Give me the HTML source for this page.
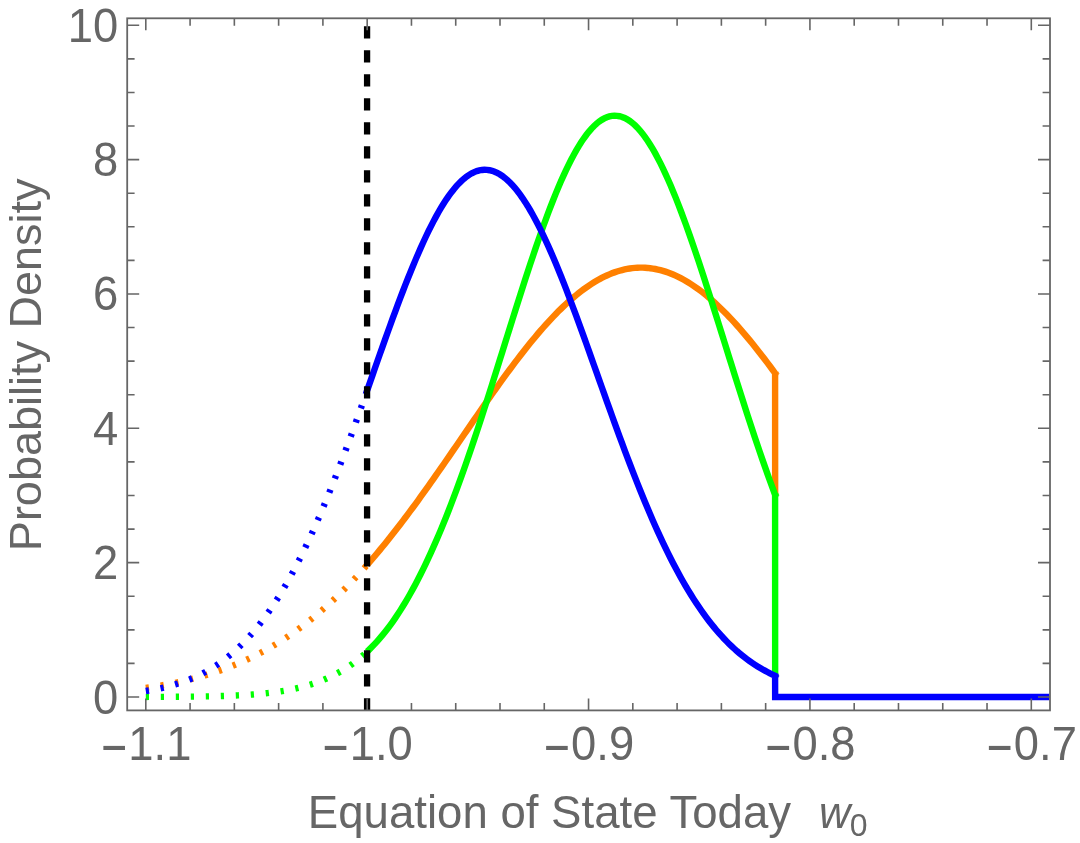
<!DOCTYPE html>
<html lang="en"><head><meta charset="utf-8"><title>Probability Density</title>
<style>html,body{margin:0;padding:0;background:#fff;}svg{display:block;will-change:transform;}text{font-family:"Liberation Sans",sans-serif;fill:#666666;}</style></head><body>
<svg width="1080" height="843" viewBox="0 0 1080 843">
<rect width="1080" height="843" fill="#fff"/>
<defs><clipPath id="c"><rect x="127.20" y="18.30" width="922.00" height="692.10"/></clipPath></defs>
<g clip-path="url(#c)" fill="none" stroke-width="6.4" stroke-linejoin="miter" stroke-miterlimit="4">
<path d="M145.80,687.89 L149.49,687.35 L153.18,686.79 L156.87,686.20 L160.56,685.57 L164.25,684.92 L167.94,684.24 L171.63,683.52 L175.32,682.77 L179.01,681.99 L182.70,681.16 L186.39,680.30 L190.08,679.40 L193.76,678.46 L197.45,677.48 L201.14,676.46 L204.83,675.39 L208.52,674.27 L212.21,673.11 L215.90,671.89 L219.59,670.63 L223.28,669.32 L226.97,667.95 L230.66,666.53 L234.35,665.05 L238.04,663.52 L241.73,661.92 L245.42,660.27 L249.11,658.55 L252.80,656.78 L256.49,654.93 L260.18,653.02 L263.87,651.05 L267.56,649.01 L271.25,646.89 L274.94,644.71 L278.63,642.46 L282.31,640.13 L286.00,637.73 L289.69,635.25 L293.38,632.70 L297.07,630.07 L300.76,627.36 L304.45,624.57 L308.14,621.71 L311.83,618.76 L315.52,615.74 L319.21,612.63 L322.90,609.44 L326.59,606.17 L330.28,602.82 L333.97,599.39 L337.66,595.87 L341.35,592.28 L345.04,588.60 L348.73,584.84 L352.42,581.00 L356.11,577.08 L359.80,573.08 L363.49,569.00 L367.18,564.84" stroke="#ff8000" stroke-dasharray="3.2 11.8"/>
<path d="M367.18,564.84 L369.72,561.93 L372.27,558.97 L374.82,555.98 L377.37,552.96 L379.92,549.90 L382.47,546.81 L385.02,543.68 L387.57,540.52 L390.12,537.33 L392.67,534.10 L395.22,530.84 L397.77,527.56 L400.32,524.24 L402.87,520.90 L405.42,517.52 L407.97,514.12 L410.52,510.70 L413.07,507.24 L415.62,503.77 L418.17,500.27 L420.72,496.74 L423.27,493.20 L425.81,489.63 L428.36,486.05 L430.91,482.45 L433.46,478.83 L436.01,475.19 L438.56,471.54 L441.11,467.88 L443.66,464.20 L446.21,460.52 L448.76,456.82 L451.31,453.12 L453.86,449.41 L456.41,445.70 L458.96,441.98 L461.51,438.26 L464.06,434.54 L466.61,430.82 L469.16,427.10 L471.71,423.39 L474.26,419.68 L476.81,415.98 L479.36,412.28 L481.90,408.60 L484.45,404.93 L487.00,401.27 L489.55,397.63 L492.10,394.01 L494.65,390.40 L497.20,386.82 L499.75,383.26 L502.30,379.72 L504.85,376.21 L507.40,372.72 L509.95,369.26 L512.50,365.84 L515.05,362.44 L517.60,359.08 L520.15,355.76 L522.70,352.48 L525.25,349.23 L527.80,346.02 L530.35,342.86 L532.90,339.74 L535.45,336.67 L537.99,333.65 L540.54,330.67 L543.09,327.75 L545.64,324.88 L548.19,322.06 L550.74,319.30 L553.29,316.60 L555.84,313.95 L558.39,311.37 L560.94,308.85 L563.49,306.39 L566.04,303.99 L568.59,301.66 L571.14,299.40 L573.69,297.21 L576.24,295.09 L578.79,293.04 L581.34,291.06 L583.89,289.15 L586.44,287.32 L588.99,285.57 L591.54,283.89 L594.08,282.29 L596.63,280.77 L599.18,279.32 L601.73,277.96 L604.28,276.68 L606.83,275.49 L609.38,274.37 L611.93,273.34 L614.48,272.39 L617.03,271.53 L619.58,270.76 L622.13,270.06 L624.68,269.46 L627.23,268.94 L629.78,268.51 L632.33,268.17 L634.88,267.91 L637.43,267.74 L639.98,267.66 L642.53,267.66 L645.08,267.76 L647.63,267.94 L650.17,268.21 L652.72,268.56 L655.27,269.01 L657.82,269.54 L660.37,270.15 L662.92,270.85 L665.47,271.64 L668.02,272.52 L670.57,273.47 L673.12,274.52 L675.67,275.64 L678.22,276.85 L680.77,278.14 L683.32,279.51 L685.87,280.96 L688.42,282.50 L690.97,284.11 L693.52,285.79 L696.07,287.56 L698.62,289.40 L701.17,291.31 L703.72,293.30 L706.26,295.36 L708.81,297.50 L711.36,299.70 L713.91,301.97 L716.46,304.31 L719.01,306.71 L721.56,309.18 L724.11,311.71 L726.66,314.30 L729.21,316.95 L731.76,319.66 L734.31,322.43 L736.86,325.26 L739.41,328.13 L741.96,331.06 L744.51,334.05 L747.06,337.08 L749.61,340.15 L752.16,343.28 L754.71,346.45 L757.26,349.66 L759.81,352.91 L762.35,356.20 L764.90,359.53 L767.45,362.89 L770.00,366.29 L772.55,369.72 L775.10,373.18 L775.15,495.78" stroke="#ff8000"/>
<path d="M778.20,370.98 l1.1,2.6 l-1.1,1.8 z" fill="#ff8000" stroke="none"/>
<path d="M145.80,696.93 L149.49,696.92 L153.18,696.91 L156.87,696.90 L160.56,696.88 L164.25,696.87 L167.94,696.85 L171.63,696.83 L175.32,696.80 L179.01,696.77 L182.70,696.74 L186.39,696.70 L190.08,696.66 L193.76,696.62 L197.45,696.57 L201.14,696.51 L204.83,696.44 L208.52,696.37 L212.21,696.29 L215.90,696.19 L219.59,696.09 L223.28,695.97 L226.97,695.85 L230.66,695.70 L234.35,695.54 L238.04,695.36 L241.73,695.17 L245.42,694.95 L249.11,694.71 L252.80,694.44 L256.49,694.14 L260.18,693.81 L263.87,693.45 L267.56,693.06 L271.25,692.62 L274.94,692.14 L278.63,691.62 L282.31,691.04 L286.00,690.41 L289.69,689.73 L293.38,688.98 L297.07,688.16 L300.76,687.27 L304.45,686.30 L308.14,685.25 L311.83,684.11 L315.52,682.88 L319.21,681.54 L322.90,680.10 L326.59,678.54 L330.28,676.87 L333.97,675.06 L337.66,673.12 L341.35,671.04 L345.04,668.81 L348.73,666.42 L352.42,663.85 L356.11,661.09 L359.80,658.14 L363.49,654.99 L367.18,651.62" stroke="#00ff00" stroke-dasharray="3.2 11.8"/>
<path d="M367.18,651.62 L369.72,649.16 L372.27,646.59 L374.82,643.91 L377.37,641.12 L379.92,638.21 L382.47,635.17 L385.02,632.02 L387.57,628.74 L390.12,625.33 L392.67,621.79 L395.22,618.12 L397.77,614.32 L400.32,610.38 L402.87,606.31 L405.42,602.10 L407.97,597.75 L410.52,593.27 L413.07,588.65 L415.62,583.89 L418.17,579.00 L420.72,573.98 L423.27,568.82 L425.81,563.54 L428.36,558.12 L430.91,552.59 L433.46,546.93 L436.01,541.15 L438.56,535.24 L441.11,529.19 L443.66,523.00 L446.21,516.69 L448.76,510.24 L451.31,503.67 L453.86,496.98 L456.41,490.16 L458.96,483.22 L461.51,476.18 L464.06,469.02 L466.61,461.75 L469.16,454.38 L471.71,446.92 L474.26,439.36 L476.81,431.72 L479.36,423.99 L481.90,416.19 L484.45,408.33 L487.00,400.40 L489.55,392.42 L492.10,384.39 L494.65,376.31 L497.20,368.21 L499.75,360.08 L502.30,351.94 L504.85,343.79 L507.40,335.63 L509.95,327.49 L512.50,319.37 L515.05,311.27 L517.60,303.21 L520.15,295.20 L522.70,287.24 L525.25,279.35 L527.80,271.54 L530.35,263.81 L532.90,256.18 L535.45,248.65 L537.99,241.24 L540.54,233.95 L543.09,226.80 L545.64,219.79 L548.19,212.93 L550.74,206.24 L553.29,199.73 L555.84,193.40 L558.39,187.26 L560.94,181.32 L563.49,175.59 L566.04,170.07 L568.59,164.79 L571.14,159.74 L573.69,154.93 L576.24,150.37 L578.79,146.06 L581.34,142.02 L583.89,138.25 L586.44,134.76 L588.99,131.54 L591.54,128.61 L594.08,125.97 L596.63,123.63 L599.18,121.58 L601.73,119.84 L604.28,118.40 L606.83,117.26 L609.38,116.44 L611.93,115.92 L614.48,115.71 L617.03,115.82 L619.58,116.24 L622.13,116.96 L624.68,118.00 L627.23,119.34 L629.78,120.99 L632.33,122.93 L634.88,125.18 L637.43,127.73 L639.98,130.56 L642.53,133.69 L645.08,137.09 L647.63,140.77 L650.17,144.73 L652.72,148.95 L655.27,153.42 L657.82,158.15 L660.37,163.13 L662.92,168.34 L665.47,173.78 L668.02,179.44 L670.57,185.31 L673.12,191.39 L675.67,197.66 L678.22,204.12 L680.77,210.75 L683.32,217.55 L685.87,224.51 L688.42,231.62 L690.97,238.86 L693.52,246.24 L696.07,253.73 L698.62,261.33 L701.17,269.03 L703.72,276.82 L706.26,284.68 L708.81,292.62 L711.36,300.61 L713.91,308.66 L716.46,316.74 L719.01,324.86 L721.56,333.00 L724.11,341.15 L726.66,349.30 L729.21,357.45 L731.76,365.58 L734.31,373.70 L736.86,381.78 L739.41,389.82 L741.96,397.82 L744.51,405.77 L747.06,413.66 L749.61,421.48 L752.16,429.23 L754.71,436.90 L757.26,444.48 L759.81,451.98 L762.35,459.38 L764.90,466.68 L767.45,473.87 L770.00,480.96 L772.55,487.93 L775.10,494.78 L775.15,676.71" stroke="#00ff00"/>
<path d="M778.20,492.58 l1.1,2.6 l-1.1,1.8 z" fill="#00ff00" stroke="none"/>
<path d="M145.80,691.03 L149.49,690.42 L153.18,689.76 L156.87,689.04 L160.56,688.26 L164.25,687.41 L167.94,686.49 L171.63,685.49 L175.32,684.42 L179.01,683.25 L182.70,682.00 L186.39,680.65 L190.08,679.19 L193.76,677.63 L197.45,675.95 L201.14,674.15 L204.83,672.23 L208.52,670.17 L212.21,667.96 L215.90,665.62 L219.59,663.11 L223.28,660.45 L226.97,657.62 L230.66,654.61 L234.35,651.43 L238.04,648.05 L241.73,644.48 L245.42,640.71 L249.11,636.74 L252.80,632.55 L256.49,628.14 L260.18,623.51 L263.87,618.66 L267.56,613.57 L271.25,608.24 L274.94,602.67 L278.63,596.86 L282.31,590.81 L286.00,584.51 L289.69,577.96 L293.38,571.16 L297.07,564.11 L300.76,556.82 L304.45,549.29 L308.14,541.51 L311.83,533.50 L315.52,525.26 L319.21,516.79 L322.90,508.11 L326.59,499.22 L330.28,490.13 L333.97,480.85 L337.66,471.39 L341.35,461.73 L345.04,451.91 L348.73,441.94 L352.42,431.82 L356.11,421.58 L359.80,411.25 L363.49,400.83 L367.18,390.36" stroke="#0000ff" stroke-dasharray="3.2 11.8"/>
<path d="M367.18,390.36 L369.72,383.10 L372.27,375.83 L374.82,368.56 L377.37,361.30 L379.92,354.06 L382.47,346.85 L385.02,339.67 L387.57,332.54 L390.12,325.46 L392.67,318.45 L395.22,311.52 L397.77,304.67 L400.32,297.92 L402.87,291.26 L405.42,284.71 L407.97,278.26 L410.52,271.93 L413.07,265.71 L415.62,259.63 L418.17,253.69 L420.72,247.89 L423.27,242.25 L425.81,236.77 L428.36,231.46 L430.91,226.32 L433.46,221.37 L436.01,216.62 L438.56,212.05 L441.11,207.70 L443.66,203.55 L446.21,199.62 L448.76,195.92 L451.31,192.44 L453.86,189.19 L456.41,186.18 L458.96,183.41 L461.51,180.89 L464.06,178.62 L466.61,176.61 L469.16,174.85 L471.71,173.34 L474.26,172.10 L476.81,171.13 L479.36,170.41 L481.90,169.97 L484.45,169.79 L487.00,169.87 L489.55,170.23 L492.10,170.85 L494.65,171.73 L497.20,172.88 L499.75,174.29 L502.30,175.96 L504.85,177.89 L507.40,180.07 L509.95,182.50 L512.50,185.18 L515.05,188.10 L517.60,191.27 L520.15,194.67 L522.70,198.29 L525.25,202.15 L527.80,206.22 L530.35,210.50 L532.90,214.99 L535.45,219.68 L537.99,224.56 L540.54,229.63 L543.09,234.88 L545.64,240.30 L548.19,245.89 L550.74,251.63 L553.29,257.53 L555.84,263.56 L558.39,269.73 L560.94,276.02 L563.49,282.43 L566.04,288.95 L568.59,295.57 L571.14,302.28 L573.69,309.08 L576.24,315.95 L578.79,322.89 L581.34,329.89 L583.89,336.94 L586.44,344.03 L588.99,351.16 L591.54,358.31 L594.08,365.48 L596.63,372.66 L599.18,379.85 L601.73,387.02 L604.28,394.19 L606.83,401.33 L609.38,408.45 L611.93,415.54 L614.48,422.59 L617.03,429.59 L619.58,436.55 L622.13,443.44 L624.68,450.28 L627.23,457.05 L629.78,463.75 L632.33,470.38 L634.88,476.92 L637.43,483.38 L639.98,489.75 L642.53,496.03 L645.08,502.21 L647.63,508.30 L650.17,514.28 L652.72,520.16 L655.27,525.93 L657.82,531.60 L660.37,537.15 L662.92,542.59 L665.47,547.92 L668.02,553.14 L670.57,558.23 L673.12,563.22 L675.67,568.08 L678.22,572.83 L680.77,577.45 L683.32,581.97 L685.87,586.36 L688.42,590.63 L690.97,594.79 L693.52,598.84 L696.07,602.77 L698.62,606.58 L701.17,610.28 L703.72,613.87 L706.26,617.35 L708.81,620.71 L711.36,623.98 L713.91,627.13 L716.46,630.18 L719.01,633.13 L721.56,635.98 L724.11,638.73 L726.66,641.38 L729.21,643.93 L731.76,646.39 L734.31,648.75 L736.86,651.03 L739.41,653.21 L741.96,655.31 L744.51,657.32 L747.06,659.25 L749.61,661.10 L752.16,662.88 L754.71,664.57 L757.26,666.20 L759.81,667.75 L762.35,669.24 L764.90,670.66 L767.45,672.01 L770.00,673.30 L772.55,674.53 L775.10,675.71 L775.15,697.00 L1060.00,697.00" stroke="#0000ff"/>
<path d="M778.20,673.51 l1.1,2.6 l-1.1,1.8 z" fill="#0000ff" stroke="none"/>
<path d="M367.08,26.3 V710.40" stroke="#000" stroke-width="6.3" stroke-dasharray="12.2 11.8"/>
</g>
<rect x="127.20" y="18.30" width="922.80" height="692.10" fill="none" stroke="#666666" stroke-width="1.8"/>
<path d="M145.80,710.40 v-12.00 M145.80,18.30 v12.00 M190.08,710.40 v-7.40 M190.08,18.30 v7.40 M234.35,710.40 v-7.40 M234.35,18.30 v7.40 M278.63,710.40 v-7.40 M278.63,18.30 v7.40 M322.90,710.40 v-7.40 M322.90,18.30 v7.40 M367.18,710.40 v-12.00 M367.18,18.30 v12.00 M411.45,710.40 v-7.40 M411.45,18.30 v7.40 M455.73,710.40 v-7.40 M455.73,18.30 v7.40 M500.00,710.40 v-7.40 M500.00,18.30 v7.40 M544.27,710.40 v-7.40 M544.27,18.30 v7.40 M588.55,710.40 v-12.00 M588.55,18.30 v12.00 M632.82,710.40 v-7.40 M632.82,18.30 v7.40 M677.10,710.40 v-7.40 M677.10,18.30 v7.40 M721.38,710.40 v-7.40 M721.38,18.30 v7.40 M765.65,710.40 v-7.40 M765.65,18.30 v7.40 M809.93,710.40 v-12.00 M809.93,18.30 v12.00 M854.20,710.40 v-7.40 M854.20,18.30 v7.40 M898.48,710.40 v-7.40 M898.48,18.30 v7.40 M942.75,710.40 v-7.40 M942.75,18.30 v7.40 M987.03,710.40 v-7.40 M987.03,18.30 v7.40 M1031.30,710.40 v-12.00 M1031.30,18.30 v12.00 M127.20,697.00 h12.00 M1050.00,697.00 h-12.00 M127.20,663.41 h7.40 M1050.00,663.41 h-7.40 M127.20,629.83 h7.40 M1050.00,629.83 h-7.40 M127.20,596.25 h7.40 M1050.00,596.25 h-7.40 M127.20,562.66 h12.00 M1050.00,562.66 h-12.00 M127.20,529.08 h7.40 M1050.00,529.08 h-7.40 M127.20,495.49 h7.40 M1050.00,495.49 h-7.40 M127.20,461.90 h7.40 M1050.00,461.90 h-7.40 M127.20,428.32 h12.00 M1050.00,428.32 h-12.00 M127.20,394.74 h7.40 M1050.00,394.74 h-7.40 M127.20,361.15 h7.40 M1050.00,361.15 h-7.40 M127.20,327.56 h7.40 M1050.00,327.56 h-7.40 M127.20,293.98 h12.00 M1050.00,293.98 h-12.00 M127.20,260.39 h7.40 M1050.00,260.39 h-7.40 M127.20,226.81 h7.40 M1050.00,226.81 h-7.40 M127.20,193.22 h7.40 M1050.00,193.22 h-7.40 M127.20,159.64 h12.00 M1050.00,159.64 h-12.00 M127.20,126.05 h7.40 M1050.00,126.05 h-7.40 M127.20,92.47 h7.40 M1050.00,92.47 h-7.40 M127.20,58.88 h7.40 M1050.00,58.88 h-7.40 M127.20,25.30 h12.00 M1050.00,25.30 h-12.00" stroke="#666666" stroke-width="1.6" fill="none"/>
<rect x="103.38" y="745.90" width="21.6" height="4.1" fill="#666666"/>
<text transform="translate(128.30,760.10) scale(1,1.045)" font-size="45.4" text-anchor="start">1.1</text>
<rect x="324.76" y="745.90" width="21.6" height="4.1" fill="#666666"/>
<text transform="translate(349.67,760.10) scale(1,1.045)" font-size="45.4" text-anchor="start">1.0</text>
<rect x="546.13" y="745.90" width="21.6" height="4.1" fill="#666666"/>
<text transform="translate(571.05,760.10) scale(1,1.045)" font-size="45.4" text-anchor="start">0.9</text>
<rect x="767.51" y="745.90" width="21.6" height="4.1" fill="#666666"/>
<text transform="translate(792.42,760.10) scale(1,1.045)" font-size="45.4" text-anchor="start">0.8</text>
<rect x="988.88" y="745.90" width="21.6" height="4.1" fill="#666666"/>
<text transform="translate(1013.80,760.10) scale(1,1.045)" font-size="45.4" text-anchor="start">0.7</text>
<text transform="translate(118.20,713.50) scale(1,1.045)" font-size="45.4" text-anchor="end">0</text>
<text transform="translate(118.20,579.16) scale(1,1.045)" font-size="45.4" text-anchor="end">2</text>
<text transform="translate(118.20,444.82) scale(1,1.045)" font-size="45.4" text-anchor="end">4</text>
<text transform="translate(118.20,310.48) scale(1,1.045)" font-size="45.4" text-anchor="end">6</text>
<text transform="translate(118.20,176.14) scale(1,1.045)" font-size="45.4" text-anchor="end">8</text>
<text transform="translate(118.20,41.80) scale(1,1.045)" font-size="45.4" text-anchor="end">10</text>
<text transform="translate(307.75,828.40) scale(1,1.015)" font-size="45.6" text-anchor="start">Equation of State Today</text>
<text transform="translate(818.90,828.40) scale(1,1)" font-size="43.5" text-anchor="start" font-style="italic">w</text>
<text transform="translate(849.80,836.00) scale(1,1)" font-size="32" text-anchor="start">0</text>
<text transform="translate(40.6,364.8) rotate(-90) scale(1,1)" font-size="45" text-anchor="middle">Probability Density</text>
</svg></body></html>
